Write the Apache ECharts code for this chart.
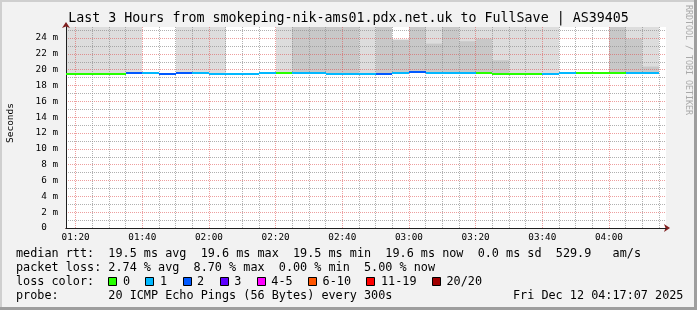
<!DOCTYPE html>
<html><head><meta charset="utf-8">
<script src="https://cdn.jsdelivr.net/npm/echarts@6/dist/echarts.min.js"></script>
<style>
html,body{margin:0;padding:0;background:#f2f2f2;}
#wrap{position:relative;width:697px;height:310px;overflow:hidden;background:#f2f2f2;}
#chart{position:absolute;left:0;top:0;width:697px;height:310px;}
.b{position:absolute;pointer-events:none;}
</style></head><body>
<div id="wrap"><div id="chart"></div>
<div class="b" style="left:0;top:0;width:697px;height:2px;background:#cfcfcf"></div>
<div class="b" style="left:0;top:0;width:2px;height:310px;background:#cfcfcf"></div>
<div class="b" style="right:0;top:0;width:3px;height:310px;background:#9e9e9e"></div>
<div class="b" style="left:0;bottom:0;width:697px;height:3px;background:#9e9e9e"></div>
</div>
<script>
// ---------------- data ----------------
const titleText = 'Last 3 Hours from smokeping-nik-ams01.pdx.net.uk to FullSave | AS39405';
const viewStart = '01:17:07';
const viewEnd = '04:17:07';
const slotMinutes = 5; // 300 s step
const slotStarts = ['01:15','01:20','01:25','01:30','01:35','01:40','01:45','01:50','01:55','02:00',
  '02:05','02:10','02:15','02:20','02:25','02:30','02:35','02:40','02:45','02:50',
  '02:55','03:00','03:05','03:10','03:15','03:20','03:25','03:30','03:35','03:40',
  '03:45','03:50','03:55','04:00','04:05','04:10'];
const medianRtt = [19.5,19.5,19.5,19.5,19.6,19.6,19.4,19.6,19.6,19.5,
  19.5,19.5,19.6,19.6,19.6,19.6,19.5,19.5,19.5,19.5,
  19.6,19.7,19.6,19.6,19.6,19.6,19.4,19.5,19.5,19.4,
  19.6,19.6,19.6,19.6,19.6,19.6];
const lossCount = [0,0,0,0,2,1,2,2,1,1,
  1,1,1,0,1,1,1,1,1,2,
  1,2,1,1,1,0,0,0,0,1,
  1,0,0,0,1,1];
// top of the outer (light) smoke and of the dense (dark) smoke, ms
const smokeLightTop = [25.4,25.4,25.4,25.4,25.4,null,null,25.4,25.4,25.4,
  null,null,null,25.4,25.4,25.4,25.4,25.4,25.4,25.4,
  23.8,25.4,25.4,25.4,25.4,25.4,25.4,25.4,25.4,25.4,
  null,null,null,25.4,25.4,25.4];
const smokeDarkTop = [null,null,null,null,null,null,null,null,null,null,
  null,null,null,null,25.4,25.4,25.4,25.4,null,25.4,
  23.8,25.4,23.3,25.4,23.6,23.9,21.2,null,null,null,
  null,null,null,25.4,23.9,20.4];
const xTickLabels = ['01:20','01:40','02:00','02:20','02:40','03:00','03:20','03:40','04:00'];
const xGridTimes = ['01:20','01:25','01:30','01:35','01:40','01:45','01:50','01:55','02:00','02:05','02:10','02:15',
  '02:20','02:25','02:30','02:35','02:40','02:45','02:50','02:55','03:00','03:05','03:10','03:15',
  '03:20','03:25','03:30','03:35','03:40','03:45','03:50','03:55','04:00','04:05','04:10','04:15'];
const yMax = 25.4;
const lossLabels = ['0','1','2','3','4-5','6-10','11-19','20/20'];
const lossColors = ['#26ff00','#00b8ff','#0059ff','#5e00ff','#ff00ff','#ff5500','#ff0000','#a10000'];
const lossUpper = [0,1,2,3,5,10,19,20];
const statRows = [
  'median rtt:  19.5 ms avg  19.6 ms max  19.5 ms min  19.6 ms now  0.0 ms sd  529.9   am/s',
  'packet loss: 2.74 % avg  8.70 % max  0.00 % min  5.00 % now'
];
const lossRowLabel = 'loss color:';
const probeText = 'probe:       20 ICMP Echo Pings (56 Bytes) every 300s';
const dateText = 'Fri Dec 12 04:17:07 2025';
const watermark = 'RRDTOOL / TOBI OETIKER';
const yAxisTitle = 'Seconds';

// ---------------- helpers ----------------
function toMin(s){ const p = s.split(':').map(Number); return p[0]*60 + p[1] + (p[2]||0)/60; }
function fmtTime(v){ const h = Math.floor(v/60 + 1e-6), m = Math.round(v - h*60); return String(h).padStart(2,'0') + ':' + String(m).padStart(2,'0'); }
function lossColor(n){ for (let i=0;i<lossUpper.length;i++){ if (n <= lossUpper[i]) return lossColors[i]; } return lossColors[lossColors.length-1]; }

const xMin = toMin(viewStart), xMax = toMin(viewEnd);
const mono = '"DejaVu Sans Mono", "Liberation Mono", monospace';
const CW = 7.1; // char advance of the stats font

const lightData = [], darkData = [], medData = [];
slotStarts.forEach((s,i) => {
  const a = toMin(s), b = a + slotMinutes;
  if (smokeLightTop[i] != null) lightData.push([a, b, medianRtt[i], smokeLightTop[i]]);
  if (smokeDarkTop[i] != null) darkData.push([a, b, medianRtt[i], smokeDarkTop[i]]);
  medData.push([a, b, medianRtt[i], lossCount[i]]);
});

function smokeRender(color){
  return function(params, api){
    const p = api.coord([api.value(0), api.value(3)]);
    const q = api.coord([api.value(1), api.value(2)]);
    const cs = params.coordSys;
    const x0 = Math.round(p[0]), x1 = Math.round(q[0]);
    const r = echarts.graphic.clipRectByRect(
      {x:x0, y:p[1], width:x1-x0, height:q[1]-p[1]},
      {x:cs.x, y:cs.y, width:cs.width, height:cs.height});
    if (!r) return;
    return {type:'rect', shape:r, style:{fill:color}};
  };
}
function medRender(params, api){
  const p = api.coord([api.value(0), api.value(2)]);
  const q = api.coord([api.value(1), api.value(2)]);
  const cs = params.coordSys;
  const x0 = Math.max(Math.round(p[0]), cs.x), x1 = Math.min(Math.round(q[0]), cs.x + cs.width);
  if (x1 <= x0) return;
  const y = Math.round(p[1]);
  return {type:'line', shape:{x1:x0, y1:y, x2:x1, y2:y}, style:{stroke: lossColor(api.value(3)), lineWidth:2}};
}

// graphic texts
const graphics = [];
graphics.push({type:'text', x:348.5, y:19, style:{text:titleText, font:'13.3px '+mono, fill:'#000', align:'center', verticalAlign:'middle'}});
graphics.push({type:'text', x:688.5, y:60, rotation:-Math.PI/2, style:{text:watermark, font:'8.3px '+mono, fill:'#a9a9a9', align:'center', verticalAlign:'middle'}});
graphics.push({type:'text', x:10.5, y:123, rotation:Math.PI/2, style:{text:yAxisTitle, font:'9.5px '+mono, fill:'#000', align:'center', verticalAlign:'middle'}});
const rowY = [254, 268, 282, 296];
statRows.forEach((t,i) => graphics.push({type:'text', x:16, y:rowY[i], style:{text:t, font:'11.8px '+mono, fill:'#000', align:'left', verticalAlign:'middle'}}));
graphics.push({type:'text', x:16, y:rowY[2], style:{text:lossRowLabel, font:'11.8px '+mono, fill:'#000', align:'left', verticalAlign:'middle'}});
let bx = 16 + 13*CW;
lossLabels.forEach((lab,i) => {
  graphics.push({type:'rect', shape:{x:Math.round(bx)+0.5, y:rowY[2]-4.5, width:8, height:8}, style:{fill:lossColors[i], stroke:'#000', lineWidth:1}});
  const tx = bx + 14.6;
  graphics.push({type:'text', x:tx, y:rowY[2], style:{text:lab, font:'11.8px '+mono, fill:'#000', align:'left', verticalAlign:'middle'}});
  bx = tx + lab.length*CW + 15.4;
});
graphics.push({type:'text', x:16, y:rowY[3], style:{text:probeText, font:'11.8px '+mono, fill:'#000', align:'left', verticalAlign:'middle'}});
graphics.push({type:'text', x:16 + 70*CW, y:rowY[3], style:{text:dateText, font:'11.8px '+mono, fill:'#000', align:'left', verticalAlign:'middle'}});

const majorGrid = 'rgba(222,79,79,0.55)';
const minorGrid = 'rgba(143,143,143,0.7)';
const axisCol = '#1f1f1f';
const arrowCol = '#801f1f';

const chart = echarts.init(document.getElementById('chart'), null, {renderer:'canvas'});
chart.setOption({
  animation:false,
  backgroundColor:'transparent',
  grid:{left:66, top:27, width:600, height:201, containLabel:false, outerBoundsMode:'none', backgroundColor:'#fff', show:true, borderWidth:0},
  xAxis:[{
    type:'value', min:xMin, max:xMax, z:3,
    axisLine:{show:true, onZero:false, lineStyle:{color:axisCol, width:1}},
    axisTick:{show:false, customValues:xGridTimes.map(toMin)},
    axisLabel:{customValues:xTickLabels.map(toMin), formatter:fmtTime, fontFamily:mono, fontSize:9.3, color:'#000', margin:5},
    splitLine:{show:true, lineStyle:{color:[majorGrid, minorGrid, minorGrid, minorGrid], width:1, type:[1,1]}}
  },{
    type:'value', min:xMin, max:xMax, z:2, position:'bottom',
    axisLine:{show:true, onZero:false, symbol:['none','arrow'], symbolSize:[6,6], symbolOffset:[0,4], lineStyle:{color:arrowCol, width:1}},
    axisTick:{show:false}, axisLabel:{show:false}, splitLine:{show:false}
  }],
  yAxis:[{
    type:'value', min:0, max:yMax, interval:1, z:3,
    axisLine:{show:true, onZero:false, lineStyle:{color:axisCol, width:1}},
    axisTick:{show:false},
    axisLabel:{formatter:v => (Math.abs(v % 2) > 1e-6 ? '' : (v === 0 ? '0  ' : v + ' m')), fontFamily:mono, fontSize:9.3, color:'#000', margin:8},
    splitLine:{show:true, showMaxLine:false, lineStyle:{color:[majorGrid, minorGrid], width:1, type:[1,1]}}
  },{
    type:'value', min:0, max:yMax, interval:1, z:2, position:'left',
    axisLine:{show:true, onZero:false, symbol:['none','arrow'], symbolSize:[6,6], symbolOffset:[0,5], lineStyle:{color:arrowCol, width:1}},
    axisTick:{show:false}, axisLabel:{show:false}, splitLine:{show:false}
  }],
  series:[
    {type:'custom', name:'smoke', z:1, renderItem:smokeRender('#dddddd'), data:lightData, encode:{x:[0,1], y:[2,3]}, silent:true},
    {type:'custom', name:'smoke core', z:1, renderItem:smokeRender('#c8c8c8'), data:darkData, encode:{x:[0,1], y:[2,3]}, silent:true},
    {type:'custom', name:'median rtt', z:5, renderItem:medRender, data:medData, encode:{x:[0,1], y:2}, silent:true}
  ],
  graphic:{elements:graphics}
});
</script>
</body></html>
